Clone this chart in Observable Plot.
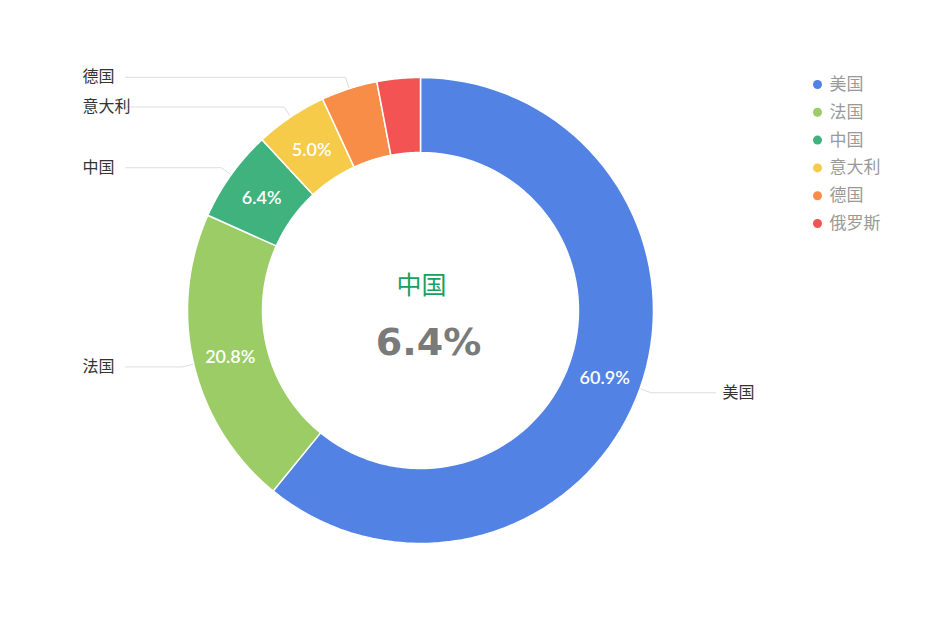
<!DOCTYPE html>
<html>
<head>
<meta charset="utf-8">
<script src="https://cdn.jsdelivr.net/npm/d3@7"></script>
<script src="https://cdn.jsdelivr.net/npm/@observablehq/plot@0.6"></script>
<style>
  html, body { margin: 0; padding: 0; background: #fff; }
  #chart { width: 936px; height: 618px; }
</style>
</head>
<body>
<div id="chart"></div>
<script>
const countries = ["美国", "法国", "中国", "意大利", "德国", "俄罗斯"];
const shares = [60.9, 20.8, 6.4, 5.0, 3.9, 3.0];
const colors = ["#5182E4", "#9BCC66", "#3FB27E", "#F7CB4A", "#F88D48", "#F35352"];
const highlight = "中国";

const W = 936, H = 618;
const cx = 420, cy = 310, R = 233, r0 = 158;

const data = countries.map((name, i) => ({name, value: shares[i], color: colors[i]}));
const arcs = d3.pie().sort(null).value(d => d.value).startAngle(0).endAngle(2 * Math.PI)(data);

const pt = (a, rad) => ({x: cx + rad * Math.sin(a), y: cy - rad * Math.cos(a)});

// slice polygons
const slicePolys = arcs.map(a => {
  const n = 80, pts = [];
  for (let k = 0; k <= n; k++) pts.push(pt(a.startAngle + (a.endAngle - a.startAngle) * k / n, R));
  for (let k = n; k >= 0; k--) pts.push(pt(a.startAngle + (a.endAngle - a.startAngle) * k / n, r0));
  pts.push(pts[0]);
  return {name: a.data.name, color: a.data.color, pts};
});

// percent labels at centroid
const pctLabels = arcs.map(a => {
  const m = (a.startAngle + a.endAngle) / 2;
  const p = pt(m, (R + r0) / 2);
  return {...p, text: a.data.value.toFixed(1) + "%", small: a.data.value < 4.5};
}).filter(d => !d.small);

// leader lines and outside labels
const leaders = [], outLabels = [];
arcs.forEach(a => {
  if (a.data.name === "俄罗斯") return;
  const m = (a.startAngle + a.endAngle) / 2;
  const p1 = pt(m, R + 1), p2 = pt(m, R + 12);
  const right = Math.sin(m) > 0;
  const p3 = {x: right ? 715 : 125, y: p2.y};
  [p1, p2, p3].forEach(p => leaders.push({...p, name: a.data.name}));
  outLabels.push({x: right ? 722 : 82, y: p2.y, name: a.data.name});
});

// legend
const legend = data.map((d, i) => ({x: 817, y: 84 + i * 27.8, name: d.name, color: d.color}));

const hl = data.find(d => d.name === highlight);

const marks = [
  ...slicePolys.map(s => Plot.line(s.pts, {x: "x", y: "y", fill: s.color, stroke: "#fff", strokeWidth: 1.5, curve: "linear"})),
  Plot.line(leaders, {x: "x", y: "y", z: "name", stroke: "#dddddd", strokeWidth: 1}),
  Plot.text(pctLabels, {x: "x", y: "y", dy: 2, text: "text", fill: "#fff", fontSize: 18, fontFamily: "Lato, 'Noto Sans', sans-serif", fontWeight: 600}),
  Plot.text(outLabels, {x: "x", y: "y", text: "name", textAnchor: "start", fill: "#333", fontSize: 16, fontFamily: "'Noto Sans CJK SC', sans-serif"}),
  Plot.dot(legend, {x: "x", y: "y", r: 4.5, fill: "color", stroke: null}),
  Plot.text(legend, {x: d => d.x + 12, y: "y", text: "name", textAnchor: "start", fill: "#999", fontSize: 17, fontFamily: "'Noto Sans CJK SC', sans-serif"}),
  Plot.text([hl], {x: () => cx + 1, y: () => cy - 25, text: d => d.name, fill: "#18a05e", fontSize: 25, fontFamily: "'Noto Sans CJK SC', sans-serif"}),
  Plot.text([hl], {x: () => cx + 8, y: () => cy + 32, text: d => d.value.toFixed(1) + "%", fill: "#7a7a7a", fontSize: 38, fontWeight: "bold", fontFamily: "'DejaVu Sans', Verdana, sans-serif"})
];

const chart = Plot.plot({
  width: W, height: H,
  margin: 0,
  x: {domain: [0, W], range: [0, W], axis: null},
  y: {domain: [0, H], range: [0, H], axis: null},
  color: {type: "identity"},
  style: {background: "#fff"},
  marks
});
document.getElementById("chart").appendChild(chart);
</script>
</body>
</html>
